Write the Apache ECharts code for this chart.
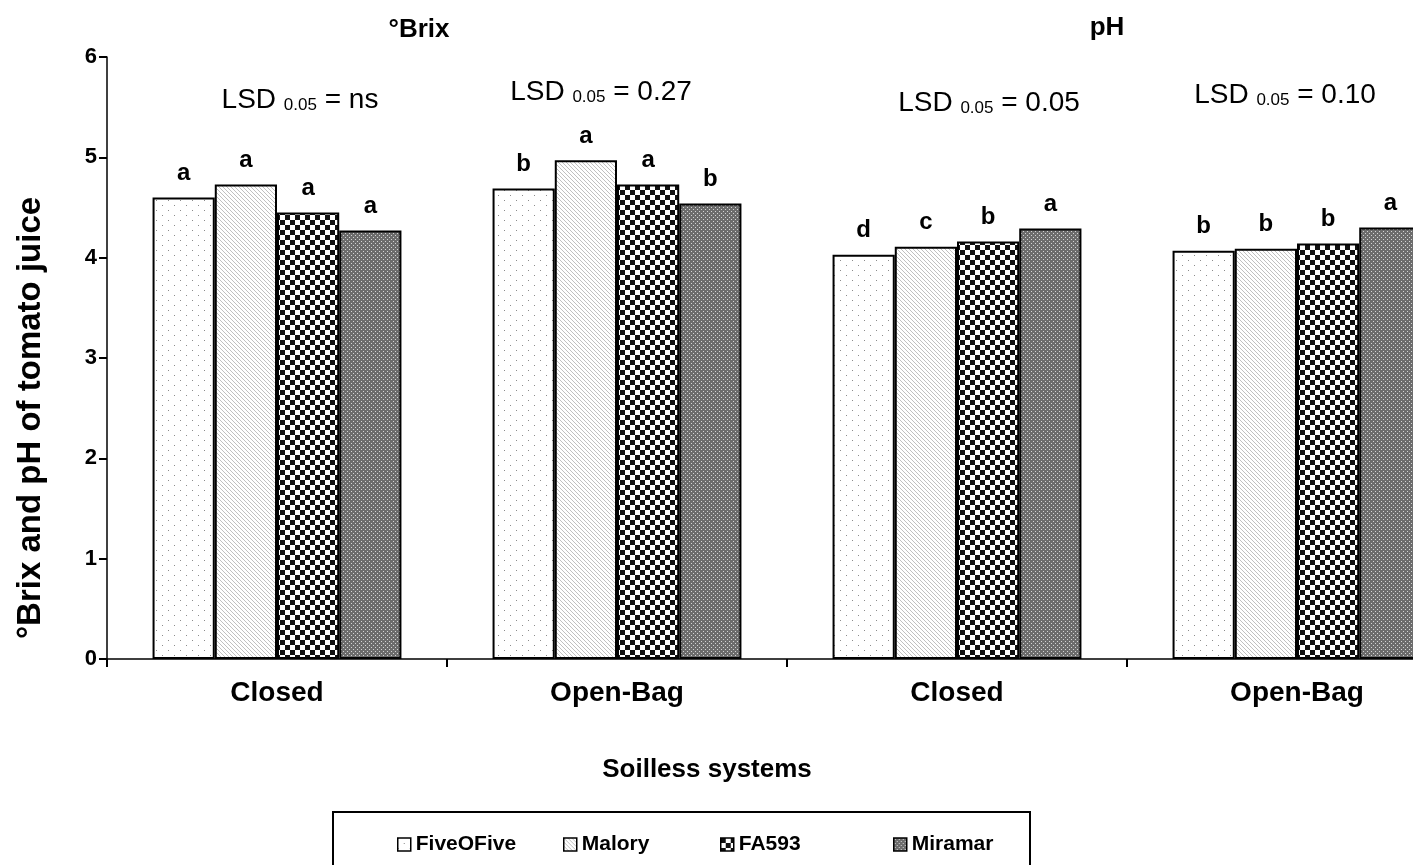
<!DOCTYPE html>
<html>
<head>
<meta charset="utf-8">
<script src="https://cdn.jsdelivr.net/npm/echarts@6/dist/echarts.min.js"></script>
<style>
  html, body { margin: 0; padding: 0; background: #fff; }
  #chart { width: 1413px; height: 865px; }
</style>
</head>
<body>
<div id="chart"></div>
<script>
// Brix (first two groups) and pH (last two) per soilless system
var categories = ['Closed', 'Open-Bag', 'Closed', 'Open-Bag'];
var varieties = ['FiveOFive', 'Malory', 'FA593', 'Miramar'];
var fiveOFive = [4.60, 4.69, 4.03, 4.07];
var malory = [4.73, 4.97, 4.11, 4.09];
var fa593 = [4.45, 4.73, 4.16, 4.14];
var miramar = [4.27, 4.54, 4.29, 4.30];
var fiveOFiveLetters = ['a', 'b', 'd', 'b'];
var maloryLetters = ['a', 'a', 'c', 'b'];
var fa593Letters = ['a', 'a', 'b', 'b'];
var miramarLetters = ['a', 'b', 'a', 'a'];
var lsdValues = ['ns', '0.27', '0.05', '0.10'];
var panelTitles = ['°Brix', 'pH'];

var FONT = '"Liberation Sans", Arial, sans-serif';

function tile (w, h, draw) {
  var c = document.createElement('canvas')
  c.width = w
  c.height = h
  var ctx = c.getContext('2d')
  ctx.fillStyle = '#fff'
  ctx.fillRect(0, 0, w, h)
  draw(ctx)
  return { image: c, repeat: 'repeat' }
}

// fill patterns
var dots = tile(12, 10, function (ctx) {
  ctx.fillStyle = '#8c8c8c'
  ctx.fillRect(0, 0, 1, 1)
  ctx.fillRect(6, 5, 1, 1)
})
var hatch = tile(4, 4, function (ctx) {
  ctx.fillStyle = '#c0c0c0'
  for (var i = 0; i < 4; i++) ctx.fillRect(i, i, 1, 1)
})
var checker = tile(10, 10, function (ctx) {
  ctx.fillStyle = '#111'
  ctx.fillRect(0, 0, 5, 5)
  ctx.fillRect(5, 5, 5, 5)
})
var grey = tile(4, 4, function (ctx) {
  ctx.fillStyle = '#6c6c6c'
  ctx.fillRect(0, 0, 4, 4)
  ctx.fillStyle = '#d4d4d4'
  ctx.fillRect(1, 1, 1, 1)
  ctx.fillRect(3, 3, 1, 1)
})

var seriesValues = [fiveOFive, malory, fa593, miramar]
var seriesLetters = [fiveOFiveLetters, maloryLetters, fa593Letters, miramarLetters]
var seriesFill = [dots, hatch, checker, grey]

var series = varieties.map(function (name, i) {
  return {
    name: name,
    type: 'bar',
    barGap: '0%',
    barCategoryGap: '26.8%',
    itemStyle: {
      color: seriesFill[i],
      borderColor: '#000',
      borderWidth: 2
    },
    label: {
      show: true,
      position: 'top',
      distance: 12,
      color: '#000',
      fontFamily: FONT,
      fontWeight: 'bold',
      fontSize: 24,
      formatter: function (p) { return seriesLetters[i][p.dataIndex] }
    },
    data: seriesValues[i]
  }
})

// one legend per item so each sits where it does in the figure
var legendLeft = [397, 563, 720, 893]
var legends = varieties.map(function (name, i) {
  return {
    data: [name],
    left: legendLeft[i],
    top: 834,
    padding: 0,
    icon: 'rect',
    itemWidth: 13,
    itemHeight: 13,
    itemGap: 0,
    selectedMode: false,
    itemStyle: { borderColor: '#000', borderWidth: 1.5 },
    textStyle: { fontFamily: FONT, fontWeight: 'bold', fontSize: 21, color: '#000', padding: [0, 0, 0, 0] }
  }
})

var lsdPos = [[300, 100], [601, 92], [989, 103], [1285, 95]]
var graphics = lsdValues.map(function (v, i) {
  return {
    type: 'text',
    x: lsdPos[i][0],
    y: lsdPos[i][1],
    style: {
      text: '{a|LSD }{s|0.05}{a| = ' + v + '}',
      align: 'center',
      verticalAlign: 'middle',
      rich: {
        a: { fontFamily: FONT, fontSize: 28, color: '#000', lineHeight: 28, verticalAlign: 'bottom' },
        s: { fontFamily: FONT, fontSize: 17, color: '#000', lineHeight: 10, verticalAlign: 'bottom' }
      }
    }
  }
})
graphics.push(
  { type: 'text', x: 419, y: 30, style: { text: panelTitles[0], align: 'center', verticalAlign: 'middle', fontFamily: FONT, fontWeight: 'bold', fontSize: 26, fill: '#000' } },
  { type: 'text', x: 1107, y: 28, style: { text: panelTitles[1], align: 'center', verticalAlign: 'middle', fontFamily: FONT, fontWeight: 'bold', fontSize: 26, fill: '#000' } },
  { type: 'text', x: 31, y: 418, rotation: Math.PI / 2, style: { text: '°Brix and pH of tomato juice', align: 'center', verticalAlign: 'middle', fontFamily: FONT, fontWeight: 'bold', fontSize: 33, fill: '#000' } },
  { type: 'text', x: 707, y: 770, style: { text: 'Soilless systems', align: 'center', verticalAlign: 'middle', fontFamily: FONT, fontWeight: 'bold', fontSize: 26, fill: '#000' } },
  { type: 'rect', shape: { x: 333, y: 812, width: 697, height: 80 }, style: { fill: 'none', stroke: '#000', lineWidth: 2 }, z: -1 }
)

var myChart = echarts.init(document.getElementById('chart'))
var option = {
  animation: false,
  backgroundColor: '#fff',
  grid: {
    left: 107,
    right: -54,
    top: 57,
    bottom: 206,
    containLabel: false,
    outerBoundsMode: 'none'
  },
  legend: legends,
  xAxis: {
    type: 'category',
    data: categories,
    axisLine: { show: true, lineStyle: { color: '#000', width: 1.5 } },
    axisTick: { show: true, length: 8, interval: 0, lineStyle: { color: '#000', width: 2 } },
    axisLabel: {
      margin: 20,
      interval: 0,
      color: '#000',
      fontFamily: FONT,
      fontWeight: 'bold',
      fontSize: 28
    },
    splitLine: { show: false }
  },
  yAxis: {
    type: 'value',
    min: 0,
    max: 6,
    interval: 1,
    axisLine: { show: true, lineStyle: { color: '#000', width: 1.5 } },
    axisTick: { show: true, length: 8, lineStyle: { color: '#000', width: 2 } },
    axisLabel: {
      margin: 10,
      color: '#000',
      fontFamily: FONT,
      fontWeight: 'bold',
      fontSize: 22
    },
    splitLine: { show: false }
  },
  graphic: graphics,
  series: series
}
myChart.setOption(option, true)
</script>
</body>
</html>
